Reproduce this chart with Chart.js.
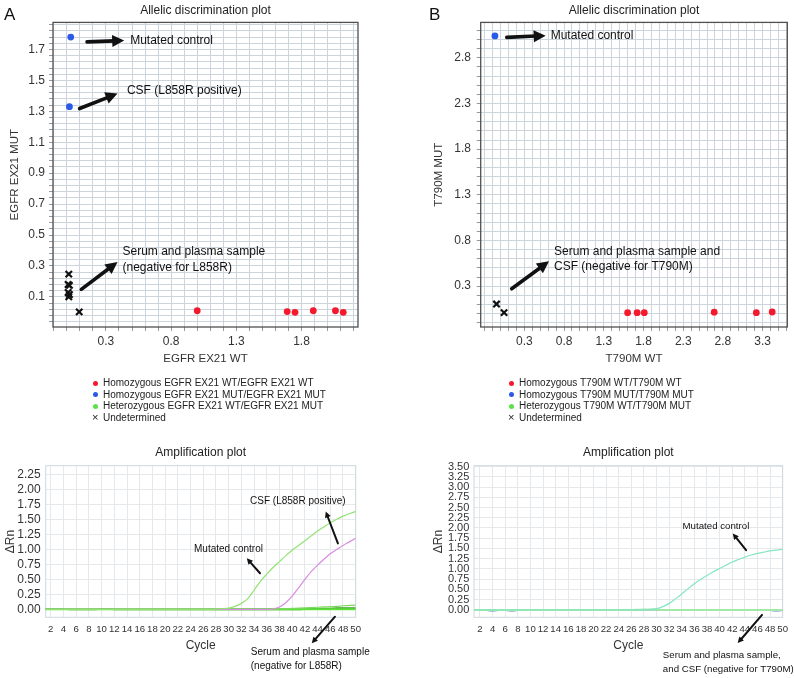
<!DOCTYPE html>
<html>
<head>
<meta charset="utf-8">
<script src="https://cdn.jsdelivr.net/npm/chart.js@4.4.1/dist/chart.umd.min.js"></script>
<style>
body { margin: 0; background: #fff; font-family: "Liberation Sans", Arial, sans-serif; }
#page { position: relative; width: 794px; height: 678px; overflow: hidden; }
canvas { position: absolute; }
.panel { position: absolute; font-size: 17px; color: #111; }
.legend { position: absolute; font-size: 10px; line-height: 11.7px; color: #222; }
.legend div { position: relative; padding-left: 10.5px; white-space: nowrap; }
.legend .dot { position: absolute; left: 0; top: 3.5px; width: 5px; height: 5px; border-radius: 50%; }
.legend .cross { position: absolute; left: -0.5px; top: 0; font-size: 11px; }
</style>
</head>
<body>
<div id="page">
  <canvas id="scatA" width="400" height="380" style="left:0;top:0"></canvas>
  <canvas id="scatB" width="394" height="380" style="left:400px;top:0"></canvas>
  <canvas id="ampA" width="400" height="238" style="left:0;top:440px"></canvas>
  <canvas id="ampB" width="394" height="238" style="left:400px;top:440px"></canvas>
  <div class="panel" style="left:4px;top:5px">A</div>
  <div class="panel" style="left:429px;top:5px">B</div>
  <div class="legend" id="legA" style="left:92.5px;top:377px"></div>
  <div class="legend" id="legB" style="left:508.5px;top:377px"></div>
</div>
<script>
Chart.defaults.font.family = '"Liberation Sans", Arial, sans-serif';
Chart.defaults.color = '#222';

// ---------- A: allelic discrimination, EGFR EX21 ----------
const wtA_x = [1.00, 1.69, 1.75, 1.89, 2.06, 2.12];
const wtA_y = [0.01, 0.005, 0.0, 0.01, 0.01, 0.0];
const mutA_x = [0.03, 0.02];
const mutA_y = [1.78, 1.33];
const undA_x = [0.015, 0.01, 0.02, 0.01, 0.02, 0.015, 0.095];
const undA_y = [0.247, 0.18, 0.174, 0.128, 0.115, 0.10, 0.003];
const xLabelsA = [0.3, 0.8, 1.3, 1.8];
const yLabelsA = [0.1, 0.3, 0.5, 0.7, 0.9, 1.1, 1.3, 1.5, 1.7];
const legendA = [
  'Homozygous EGFR EX21 WT/EGFR EX21 WT',
  'Homozygous EGFR EX21 MUT/EGFR EX21 MUT',
  'Heterozygous EGFR EX21 WT/EGFR EX21 MUT',
  'Undetermined'
];

// ---------- B: allelic discrimination, T790M ----------
const wtB_x = [1.60, 1.72, 1.81, 2.69, 3.22, 3.42];
const wtB_y = [0.01, 0.01, 0.01, 0.015, 0.01, 0.017];
const mutB_x = [-0.07];
const mutB_y = [3.04];
const undB_x = [-0.05, 0.045];
const undB_y = [0.104, 0.01];
const xLabelsB = [0.3, 0.8, 1.3, 1.8, 2.3, 2.8, 3.3];
const yLabelsB = [0.3, 0.8, 1.3, 1.8, 2.3, 2.8];
const legendB = [
  'Homozygous T790M WT/T790M WT',
  'Homozygous T790M MUT/T790M MUT',
  'Heterozygous T790M WT/T790M MUT',
  'Undetermined'
];

// ---------- amplification plots ----------
const cycles = [1,2,3,4,5,6,7,8,9,10,11,12,13,14,15,16,17,18,19,20,21,22,23,24,25,
                26,27,28,29,30,31,32,33,34,35,36,37,38,39,40,41,42,43,44,45,46,47,48,49,50];
const cycleLabels = [2,4,6,8,10,12,14,16,18,20,22,24,26,28,30,32,34,36,38,40,42,44,46,48,50];

const ampA_mutCtrl = [0,0,0,0,0,0,0,0,0,0,0,0,0,0,0,0,0,0,0,0,0,0,0,0,0,0,0,0.005,0.01,0.02,
                      0.05,0.10,0.18,0.32,0.47,0.59,0.70,0.80,0.90,0.99,1.07,1.15,1.23,1.31,1.38,1.45,1.51,1.56,1.60,1.64];
const ampA_csf = [0,0,0,0,0,0,0,0,0,0,0,0,0,0,0,0,0,0,0,0,0,0,0,0,0,0,0,0,0,0,
                  0,0,0,0,0,0,0.01,0.04,0.11,0.22,0.36,0.50,0.63,0.74,0.84,0.93,1.00,1.07,1.13,1.19];
const ampA_neg1 = [0,0,0,0,0,0,0,0,0,0,0,0,0,0,0,0,0,0,0,0,0,0,0,0,0,0,0,0,0,0,
                   0,0,0,0,0,0,0,0.005,0.01,0.015,0.02,0.025,0.03,0.035,0.04,0.045,0.05,0.06,0.065,0.07];
const ampA_neg2 = [0.005,0.005,0.005,0.005,0,0,0,0,0,0.005,0.005,0,0,0,0,0,0,0,0,0,0,0,0,0,0,0,0,0,0,0,
                   0,0,0,0,0,0,0,0,0,0,0,0.005,0.01,0.01,0.015,0.015,0.02,0.02,0.02,0.02];
const ampA_neg3 = [0,0,0,0,0,0,0,0,0,0,0,0,0,0,0,0,0,0,0,0,0,0,0,0,0,0,0,0,0,0,
                   0,0,0,0,0,0,0,0,0,0,0,0,0,0,0,0,0,0,0,0];
const yLabelsAmpA = [0, 0.25, 0.5, 0.75, 1.0, 1.25, 1.5, 1.75, 2.0, 2.25];

const ampB_mutCtrl = [0,0,0,0,0,0,0,0,0,0,0,0,0,0,0,0,0,0,0,0,0,0,0,0,0,0,0,0,0.01,0.03,
                      0.08,0.16,0.27,0.39,0.52,0.64,0.75,0.84,0.93,1.01,1.09,1.17,1.23,1.29,1.34,1.38,1.41,1.44,1.46,1.48];
const ampB_neg1 = [0,0,0,0,0,0,0,0,0,0,0,0,0,0,0,0,0,0,0,0,0,0,0,0,0,0,0.005,0.01,0.01,0.005,
                   0,0,0,0,0,0,0,0,0,0,0,0,0,0,0,0,0,0,0,0];
const ampB_neg2 = [0,-0.005,-0.01,-0.025,-0.01,-0.01,-0.025,-0.01,0,0,0,0,0,0,0,0,0,0,0,0,0,-0.01,-0.01,-0.01,-0.01,-0.01,0,0,0,0,
                   0,0,0,0,0,0,0,0,0,0,0,0,0,0,0,0,0,-0.01,-0.025,-0.01];
const yLabelsAmpB = [0, 0.25, 0.5, 0.75, 1.0, 1.25, 1.5, 1.75, 2.0, 2.25, 2.5, 2.75, 3.0, 3.25, 3.5];

const RED = '#f5192e', BLUE = '#2a5ae8', GREEN = '#5de04a';

function pts(xs, ys) {
  return xs.map((x, i) => ({ x: x, y: ys[i] }));
}

function gridSteps(from, to, step) {
  const out = [];
  for (let v = from; v <= to + 1e-9; v += step) out.push(Math.round(v * 1000) / 1000);
  return out;
}

function has(list, v) {
  return list.some(l => Math.abs(l - v) < 1e-6);
}

function drawArrow(ctx, x1, y1, x2, y2, w, head) {
  const a = Math.atan2(y2 - y1, x2 - x1);
  const bx = x2 - Math.cos(a) * head * 0.8, by = y2 - Math.sin(a) * head * 0.8;
  ctx.lineWidth = w;
  ctx.lineCap = 'round';
  ctx.beginPath();
  ctx.moveTo(x1, y1);
  ctx.lineTo(bx, by);
  ctx.stroke();
  ctx.beginPath();
  ctx.moveTo(x2, y2);
  ctx.lineTo(x2 - Math.cos(a) * head - Math.sin(a) * head * 0.5, y2 - Math.sin(a) * head + Math.cos(a) * head * 0.5);
  ctx.lineTo(x2 - Math.cos(a) * head + Math.sin(a) * head * 0.5, y2 - Math.sin(a) * head - Math.cos(a) * head * 0.5);
  ctx.closePath();
  ctx.fill();
}

const framePlugin = {
  id: 'frame',
  beforeDatasetsDraw(chart, args, opts) {
    const { ctx, chartArea: c } = chart;
    ctx.save();
    ctx.strokeStyle = opts.color;
    ctx.lineWidth = opts.width;
    ctx.strokeRect(c.left, c.top, c.right - c.left, c.bottom - c.top);
    ctx.restore();
  }
};

const notesPlugin = {
  id: 'notes',
  afterDatasetsDraw(chart, args, opts) {
    const { ctx } = chart;
    const sx = chart.scales.x, sy = chart.scales.y;
    ctx.save();
    ctx.fillStyle = '#111';
    ctx.strokeStyle = '#111';
    ctx.font = opts.size + 'px "Liberation Sans", Arial, sans-serif';
    ctx.textBaseline = 'middle';
    opts.texts.forEach(t => {
      ctx.fillText(t.text, sx.getPixelForValue(t.x), sy.getPixelForValue(t.y));
    });
    opts.arrows.forEach(a => {
      drawArrow(ctx, sx.getPixelForValue(a.x1), sy.getPixelForValue(a.y1),
                sx.getPixelForValue(a.x2), sy.getPixelForValue(a.y2), opts.lineWidth, opts.head);
    });
    ctx.restore();
  }
};

function scatterChart(id, o) {
  return new Chart(document.getElementById(id), {
    type: 'scatter',
    data: {
      datasets: [
        { label: o.legend[0], data: o.wt, pointRadius: 3.4, backgroundColor: RED, borderWidth: 0 },
        { label: o.legend[1], data: o.mut, pointRadius: 3.4, backgroundColor: BLUE, borderWidth: 0 },
        { label: o.legend[2], data: [], pointRadius: 3.4, backgroundColor: GREEN, borderWidth: 0 },
        { label: o.legend[3], data: o.und, pointStyle: 'crossRot', pointRadius: 4.5, borderWidth: 2.2, borderColor: '#111' }
      ]
    },
    options: {
      responsive: false,
      animation: false,
      layout: { padding: o.padding },
      plugins: {
        legend: { display: false },
        tooltip: { enabled: false },
        title: { display: true, text: 'Allelic discrimination plot', fullSize: false, color: '#222',
                 font: { size: 12, weight: 'normal' }, padding: { top: 3, bottom: 5 } },
        frame: { color: '#505050', width: 1.3 },
        notes: o.notes
      },
      scales: {
        x: {
          type: 'linear', min: o.xMin, max: o.xMax,
          afterBuildTicks: a => { a.ticks = o.xGrid.map(v => ({ value: v })); },
          afterFit: a => { a.height = 45; },
          grid: { color: '#cdd5dc', tickLength: 4, tickColor: '#999' },
          border: { display: false },
          ticks: { autoSkip: false, maxRotation: 0, padding: 3, color: '#333', font: { size: 12 },
                   callback: v => has(o.xLabels, v) ? v.toFixed(1) : '' },
          title: { display: true, text: o.xTitle, color: '#333', font: { size: 11.5 }, padding: { top: 0, bottom: 6 } }
        },
        y: {
          type: 'linear', min: o.yMin, max: o.yMax,
          afterBuildTicks: a => { a.ticks = o.yGrid.map(v => ({ value: v })); },
          afterFit: a => { a.width = o.yWidth; },
          grid: { color: '#cdd5dc', tickLength: 4, tickColor: '#999' },
          border: { display: false },
          ticks: { autoSkip: false, padding: o.yPad, color: '#333', font: { size: 12 },
                   callback: v => has(o.yLabels, v) ? v.toFixed(1) : '' },
          title: { display: true, text: o.yTitle, color: '#333', font: { size: 11.5 }, padding: { top: o.yTitlePad, bottom: 0 } }
        }
      }
    },
    plugins: [framePlugin, notesPlugin]
  });
}

// series are listed top-most first (Chart.js paints dataset 0 last)
function ampChart(id, o) {
  return new Chart(document.getElementById(id), {
    type: 'line',
    data: {
      datasets: o.series.map(s => ({
        data: pts(cycles, s.values), borderColor: s.color, borderWidth: s.width || 1.2,
        pointRadius: 0, fill: false, cubicInterpolationMode: 'monotone'
      }))
    },
    options: {
      responsive: false,
      animation: false,
      layout: { padding: o.padding },
      plugins: {
        legend: { display: false },
        tooltip: { enabled: false },
        title: { display: true, text: 'Amplification plot', fullSize: false, color: '#222',
                 font: { size: 12, weight: 'normal' }, padding: { top: 5.5, bottom: 5.8 } },
        frame: { color: '#cdd7de', width: 1 },
        notes: o.notes
      },
      scales: {
        x: {
          type: 'linear', min: o.xMin, max: 50,
          afterBuildTicks: a => { a.ticks = cycleLabels.map(v => ({ value: v })); },
          afterFit: a => { a.height = 40; },
          grid: { color: '#e6e9ec', drawTicks: false },
          border: { display: false },
          ticks: { autoSkip: false, maxRotation: 0, padding: 6, color: '#333', font: { size: 9.6 },
                   callback: v => String(v) },
          title: { display: true, text: 'Cycle', color: '#333', font: { size: 12 }, padding: { top: 0, bottom: 4.7 } }
        },
        y: {
          type: 'linear', min: o.yMin, max: o.yMax,
          afterBuildTicks: a => { a.ticks = o.yLabels.map(v => ({ value: v })); },
          afterFit: a => { a.width = o.yWidth; },
          grid: { color: '#e6e9ec', drawTicks: false },
          border: { display: false },
          ticks: { autoSkip: false, padding: o.yPad, color: '#333', font: { size: o.yFont },
                   callback: v => v.toFixed(2) },
          title: { display: true, text: '\u0394Rn', color: '#333', font: { size: 12 }, padding: { top: o.yTitlePad, bottom: 0 } }
        }
      }
    },
    plugins: [framePlugin, notesPlugin]
  });
}

scatterChart('scatA', {
  legend: legendA,
  wt: pts(wtA_x, wtA_y), mut: pts(mutA_x, mutA_y), und: pts(undA_x, undA_y),
  padding: { left: 0, right: 42, top: 0, bottom: 8 },
  xMin: -0.106, xMax: 2.233, yMin: -0.095, yMax: 1.875,
  xGrid: gridSteps(-0.1, 2.2, 0.1), yGrid: gridSteps(-0.06, 1.86, 0.04),
  xLabels: xLabelsA, yLabels: yLabelsA,
  xTitle: 'EGFR EX21 WT', yTitle: 'EGFR EX21 MUT',
  yWidth: 53, yPad: 4, yTitlePad: 8,
  notes: {
    size: 12, lineWidth: 3.6, head: 12,
    texts: [
      { text: 'Mutated control', x: 0.486, y: 1.756 },
      { text: 'CSF (L858R positive)', x: 0.461, y: 1.432 },
      { text: 'Serum and plasma sample', x: 0.427, y: 0.391 },
      { text: '(negative for L858R)', x: 0.427, y: 0.287 }
    ],
    arrows: [
      { x1: 0.155, y1: 1.749, x2: 0.44, y2: 1.758 },
      { x1: 0.098, y1: 1.318, x2: 0.389, y2: 1.415 },
      { x1: 0.111, y1: 0.148, x2: 0.389, y2: 0.326 }
    ]
  }
});

scatterChart('scatB', {
  legend: legendB,
  wt: pts(wtB_x, wtB_y), mut: pts(mutB_x, mutB_y), und: pts(undB_x, undB_y),
  padding: { left: 0, right: 6.7, top: 0, bottom: 8 },
  xMin: -0.249, xMax: 3.61, yMin: -0.147, yMax: 3.188,
  xGrid: gridSteps(-0.2, 3.6, 0.1), yGrid: gridSteps(-0.1, 3.1, 0.1),
  xLabels: xLabelsB, yLabels: yLabelsB,
  xTitle: 'T790M WT', yTitle: 'T790M MUT',
  yWidth: 80.7, yPad: 5.7, yTitlePad: 32,
  notes: {
    size: 12, lineWidth: 3.6, head: 12,
    texts: [
      { text: 'Mutated control', x: 0.632, y: 3.043 },
      { text: 'Serum and plasma sample and', x: 0.674, y: 0.681 },
      { text: 'CSF (negative for T790M)', x: 0.674, y: 0.511 }
    ],
    arrows: [
      { x1: 0.079, y1: 3.024, x2: 0.569, y2: 3.043 },
      { x1: 0.141, y1: 0.272, x2: 0.611, y2: 0.572 }
    ]
  }
});

ampChart('ampA', {
  series: [
    { values: ampA_mutCtrl, color: '#93e374' },
    { values: ampA_csf, color: '#d98be0' },
    { values: ampA_neg1, color: '#7fd85e' },
    { values: ampA_neg3, color: '#5fe03c', width: 2 },
    { values: ampA_neg2, color: '#3e9e2c', width: 1.6 }
  ],
  padding: { left: 0, right: 44.3, top: 0, bottom: 20.7 },
  xMin: 1.2, yMin: -0.133, yMax: 2.405,
  yLabels: yLabelsAmpA, yWidth: 45.7, yPad: 5, yFont: 12, yTitlePad: 3,
  notes: {
    size: 10, lineWidth: 2, head: 6,
    texts: [
      { text: 'CSF (L858R positive)', x: 33.37, y: 1.805 },
      { text: 'Mutated control', x: 24.55, y: 1.005 },
      { text: 'Serum and plasma sample', x: 33.48, y: -0.723 },
      { text: '(negative for L858R)', x: 33.48, y: -0.957 }
    ],
    arrows: [
      { x1: 47.2, y1: 1.105, x2: 45.28, y2: 1.638 },
      { x1: 34.94, y1: 0.605, x2: 32.85, y2: 0.855 },
      { x1: 46.74, y1: -0.123, x2: 43.08, y2: -0.567 }
    ]
  }
});

ampChart('ampB', {
  series: [
    { values: ampB_mutCtrl, color: '#86e6c0' },
    { values: ampB_neg1, color: '#a3e8a6', width: 2 },
    { values: ampB_neg2, color: '#5a7fc8', width: 1.2 }
  ],
  padding: { left: 0, right: 9.7, top: 0, bottom: 20.7 },
  xMin: 1.05, yMin: -0.18, yMax: 3.52,
  yLabels: yLabelsAmpB, yWidth: 74, yPad: 4.7, yFont: 11, yTitlePad: 31,
  notes: {
    size: 9.7, lineWidth: 2, head: 6,
    texts: [
      { text: 'Mutated control', x: 34.12, y: 2.05 },
      { text: 'Serum and plasma sample,', x: 31.0, y: -1.119 },
      { text: 'and CSF (negative for T790M)', x: 31.0, y: -1.46 }
    ],
    arrows: [
      { x1: 44.2, y1: 1.46, x2: 42.08, y2: 1.866 },
      { x1: 46.73, y1: -0.122, x2: 42.87, y2: -0.81 }
    ]
  }
});

function buildLegend(id, labels) {
  const colors = [RED, BLUE, GREEN];
  const box = document.getElementById(id);
  labels.forEach((l, i) => {
    const row = document.createElement('div');
    const mark = document.createElement('span');
    if (i < 3) {
      mark.className = 'dot';
      mark.style.background = colors[i];
    } else {
      mark.className = 'cross';
      mark.textContent = '\u00d7';
    }
    row.appendChild(mark);
    row.appendChild(document.createTextNode(l));
    box.appendChild(row);
  });
}
buildLegend('legA', legendA);
buildLegend('legB', legendB);
</script>
</body>
</html>
